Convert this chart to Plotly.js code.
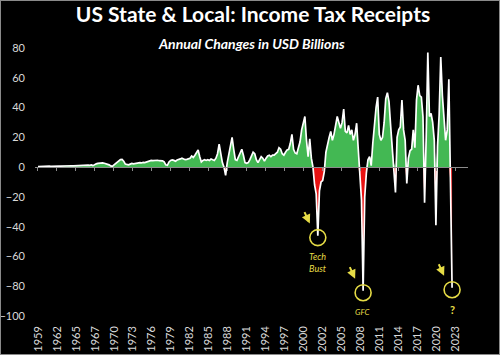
<!DOCTYPE html>
<html><head><meta charset="utf-8">
<script src="https://cdn.plot.ly/plotly-3.0.1.min.js"></script>
<style>
html,body{margin:0;padding:0;background:#000;}
#wrap{position:relative;width:500px;height:355px;}
#c{width:500px;height:355px;}
#frame{position:absolute;left:0;top:0;width:500px;height:355px;box-sizing:border-box;border:1px solid #8a8a8a;pointer-events:none;}
</style>
</head><body><div id="wrap"><div id="c"></div><div id="frame"></div></div>
<script>
// Quarterly annual changes, USD billions, starting 1959 Q1
const startYear = 1959;
const values1959to1969 = [
  0.3,0.4,0.3,0.5, 0.4,0.5,0.4,0.6, 0.5,0.6,0.5,0.7, 0.6,0.7,0.6,0.7,
  0.6,0.8,0.7,0.8, 0.7,0.9,0.8,0.9, 0.8,1.0,0.9,1.0, 1.1,1.0,1.2,1.3,
  1.2,1.5,1.0,1.8, 2.2,2.5,2.7,2.6, 2.8,2.6,2.4,2.0
];
const values1970s = [
  1.5,0.8,0.5,1.5, 2.5,3.5,4.5,5.0, 5.2,4.0,2.0,1.5, 1.5,2.0,2.5,2.2,
  2.4,2.8,2.5,3.0, 2.8,3.2,3.0,3.5, 3.8,4.2,4.5,4.4, 4.5,4.8,4.6,4.3,
  4.5,4.2,3.5,1.5, 1.2,3.5,4.5,4.8
];
const values1980s = [
  4.5,4.0,4.8,5.0, 5.5,6.0,5.5,5.0, 5.2,5.8,6.0,7.5, 6.5,8.0,10.0,11.5,
  7.0,3.5,4.5,5.0, 4.5,5.0,4.5,5.5, 5.0,4.5,6.0,9.0, 15.5,8.0,3.0,0.0,
  -5.5,3.0,8.0,14.0, 20.0,12.0,5.0,4.5
];
const values1990s = [
  7,10,12,8, 3,2.5,3,5, 8,10,9,5, 3,5,7,6,
  4,6,7.5,8, 7,8,8,9, 10,13,12,9, 8,10,11.6,12,
  16,22,12,9.5, 9,13,17,25
];
const values2000s = [
  30,34,18,7, 19,6,0,-12, -18,-46,-16,-10, -9,-3,10,16,
  20,24,18,22, 28,34,30,26, 30,39,24,23, 28,22,25,18,
  22,29.5,12,-6, -22,-83,-20,-4
];
const values2010s = [
  5,7,1,16, 30,40,47,22, 18,20,30,46, 50,44,28,12,
  3,-17,20,25, 27,45,25,18, -11,6,11,12, 25,13,45,55,
  48,47,34,-24, 20,77,34,36
];
const values2020s = [
  30,18,-39,14, 35,74,48,30, 18,25,59,-10, -81
];
const values = [].concat(values1959to1969, values1970s, values1980s,
                         values1990s, values2000s, values2010s, values2020s);
const xs = values.map((_, i) => startYear + i / 4);

const tickLabels = ['1959','1962','1965','1967','1970','1973','1976','1979','1982','1985',
  '1988','1991','1994','1997','2000','2002','2005','2008','2011','2014','2017','2020','2023'];
const tickStepYears = 2.935;
const tickVals = tickLabels.map((_, i) => startYear + i * tickStepYears);

// callouts (quarter of each trough)
const calloutYears = [2002.25, 2009.25, 2023.0];
const calloutTexts = ['<i>Tech<br>Bust</i>', '<i>GFC</i>', '<b>?</b>'];
const calloutTextSizes = [9, 8, 11];
const calloutTextShift = [-25, -19, -20];

const green = '#43b853', red = '#e81212', yellow = '#e6dc46';
const xRange = [1958.54, 2025.46];

const traces = [
  {x: xs, y: values.map(v => Math.max(v, 0)), type: 'scatter', mode: 'lines',
   line: {width: 0}, fill: 'tozeroy', fillcolor: green, hoverinfo: 'skip'},
  {x: xs, y: values.map(v => Math.min(v, 0)), type: 'scatter', mode: 'lines',
   line: {width: 0}, fill: 'tozeroy', fillcolor: red, hoverinfo: 'skip'},
  {x: xs, y: values, type: 'scatter', mode: 'lines', xaxis: 'x2',
   line: {color: '#ffffff', width: 1.7}, hoverinfo: 'skip'}
];

const shapes = [], annotations = [];
calloutYears.forEach((yr, k) => {
  const idx = Math.round((yr - startYear) * 4);
  const yv = values[idx];
  shapes.push({type: 'circle', xref: 'x', yref: 'y', xsizemode: 'pixel', ysizemode: 'pixel',
    xanchor: yr, yanchor: yv, x0: -8, x1: 8, y0: -10, y1: 6,
    line: {color: yellow, width: 1.6}});
  annotations.push({x: yr, y: yv, xref: 'x', yref: 'y', text: '', showarrow: true,
    xshift: -8, yshift: 12, ax: -6, ay: -13, arrowcolor: yellow, arrowwidth: 2,
    arrowhead: 2, arrowsize: 0.9, standoff: 0, startstandoff: 0});
  annotations.push({x: yr, y: yv, xref: 'x', yref: 'y', text: calloutTexts[k], showarrow: false,
    yshift: calloutTextShift[k] - 2, yanchor: 'middle', xanchor: 'center',
    font: {family: 'Lato', size: calloutTextSizes[k], color: yellow}});
});
annotations.push({xref: 'paper', yref: 'paper', x: 0.501, y: 1.015, xanchor: 'center', yanchor: 'middle',
  text: '<b><i>Annual Changes in USD Billions</i></b>', showarrow: false,
  font: {family: 'Lato', size: 14, color: '#ffffff'}});

const layout = {
  width: 500, height: 355,
  paper_bgcolor: '#000', plot_bgcolor: '#000',
  margin: {l: 35, r: 32, t: 48, b: 39},
  showlegend: false,
  title: {text: '<b>US State &amp; Local: Income Tax Receipts</b>', x: 0.506, xref: 'container',
    y: 1 - 15 / 355, yref: 'container', yanchor: 'middle', xanchor: 'center',
    font: {family: 'Lato', size: 21, color: '#ffffff'}},
  xaxis: {range: xRange, tickvals: tickVals, ticktext: tickLabels, tickangle: -90,
    tickfont: {family: 'Lato', size: 11, color: '#d9d9d9'}, showgrid: false, zeroline: false,
    showline: false, ticks: '', ticklabelstandoff: 7, fixedrange: true},
  xaxis2: {overlaying: 'x', anchor: 'free', position: 100 / 180, range: xRange,
    tickvals: tickVals, showticklabels: false, ticks: 'outside', ticklen: 3, tickcolor: '#8c8c8c',
    showline: true, linecolor: '#8c8c8c', linewidth: 1, showgrid: false, zeroline: false},
  yaxis: {range: [-100, 80], dtick: 20, tick0: 0, showgrid: false, zeroline: false,
    tickfont: {family: 'Lato', size: 11, color: '#d9d9d9'}, ticks: '', ticklabelstandoff: 9},
  shapes: shapes,
  annotations: annotations
};
Plotly.newPlot('c', traces, layout, {displayModeBar: false, staticPlot: true});
</script>
</body></html>
